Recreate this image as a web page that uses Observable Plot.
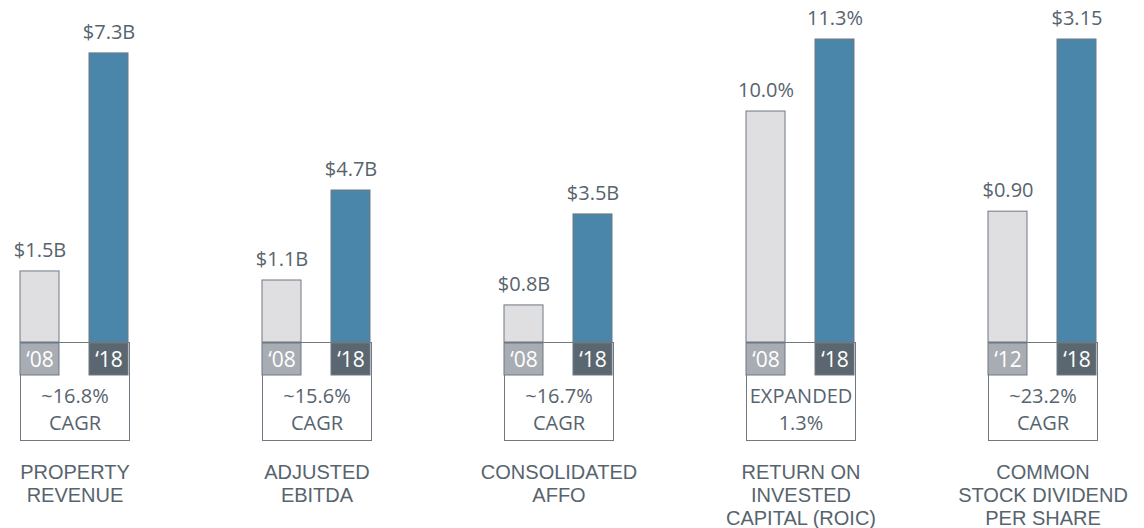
<!DOCTYPE html>
<html>
<head>
<meta charset="utf-8">
<script src="https://cdn.jsdelivr.net/npm/d3@7"></script>
<script src="https://cdn.jsdelivr.net/npm/@observablehq/plot@0.6"></script>
<style>
  html, body { margin: 0; padding: 0; background: #ffffff; overflow: hidden; }
  #chart { display: flex; width: 1144px; height: 528px; }
  .panel { flex: 0 0 242px; width: 242px; }
  .panel svg { display: block; }
</style>
</head>
<body>
<div id="chart"></div>
<script>
// ---- data ----
const metrics = [
  "PROPERTY\nREVENUE",
  "ADJUSTED\nEBITDA",
  "CONSOLIDATED\nAFFO",
  "RETURN ON\nINVESTED\nCAPITAL (ROIC)",
  "COMMON\nSTOCK DIVIDEND\nPER SHARE"
];
const baseYears = ["\u201808", "\u201808", "\u201808", "\u201808", "\u201812"];
const latestYears = ["\u201818", "\u201818", "\u201818", "\u201818", "\u201818"];
const baseValues = [1.5, 1.1, 0.8, 10.0, 0.90];
const latestValues = [7.3, 4.7, 3.5, 11.3, 3.15];
const baseLabels = ["$1.5B", "$1.1B", "$0.8B", "10.0%", "$0.90"];
const latestLabels = ["$7.3B", "$4.7B", "$3.5B", "11.3%", "$3.15"];
const growthLine1 = ["~16.8%", "~15.6%", "~16.7%", "EXPANDED", "~23.2%"];
const growthLine2 = ["CAGR", "CAGR", "CAGR", "1.3%", "CAGR"];
// each panel is drawn on its own value scale (as in the original graphic)
const yDomains = [[-0.39, 7.67], [-1.38, 10.74], [-0.3, 8.69], [5.83, 11.3], [-0.81, 3.15]];

// ---- style ----
const textColor = "#57646e";
const outline = "#6f7983";
const baseFill = "#dfdfe1";
const latestFill = "#4a86aa";
const baseYearFill = "#a8acb3";
const latestYearFill = "#5b6770";
const numFont = "'Open Sans', 'Noto Sans', sans-serif";
const labelFont = "'Liberation Sans', Arial, sans-serif";

const slots = ["base", "latest"];
const common = {
  width: 242,
  marginLeft: 20,
  marginRight: 113,
  style: {background: "transparent", overflow: "visible", color: textColor}
};
const xScale = {type: "band", domain: slots, paddingInner: 0.4317, paddingOuter: 0, axis: null};

const chart = document.getElementById("chart");

metrics.forEach((metric, i) => {
  const rows = [
    {slot: "base", value: baseValues[i], label: baseLabels[i], year: baseYears[i]},
    {slot: "latest", value: latestValues[i], label: latestLabels[i], year: latestYears[i]}
  ];
  const floor = yDomains[i][0];

  const top = Plot.plot({
    ...common,
    height: 342,
    marginTop: 39,
    marginBottom: 0,
    x: xScale,
    y: {domain: yDomains[i], axis: null},
    marks: [
      Plot.barY(rows, {
        x: "slot", y1: floor, y2: "value",
        fill: d => d.slot === "base" ? baseFill : latestFill,
        stroke: outline, strokeWidth: 1, inset: 0
      }),
      Plot.text(rows, {
        x: "slot", y: "value", text: "label", dy: -21,
        lineAnchor: "middle", fontSize: 20, fontFamily: numFont, fill: textColor
      })
    ]
  });

  const bottom = Plot.plot({
    ...common,
    height: 186,
    marginTop: 0,
    marginBottom: 88,
    x: xScale,
    y: {type: "band", domain: ["year", "line1", "line2"], paddingInner: 0, paddingOuter: 0, axis: null},
    marks: [
      Plot.frame({fill: "white", stroke: outline, strokeWidth: 1}),
      Plot.cell(rows, {
        x: "slot", y: () => "year", inset: 0,
        fill: d => d.slot === "base" ? baseYearFill : latestYearFill,
        stroke: outline, strokeWidth: 1
      }),
      Plot.text(rows, {
        x: "slot", y: () => "year", text: "year", dy: 1,
        fontSize: 21, fontFamily: numFont, fill: "white"
      }),
      Plot.text([growthLine1[i]], {
        y: () => "line1", text: d => d, frameAnchor: "middle", dy: 5,
        fontSize: 20, fontFamily: numFont, fill: textColor
      }),
      Plot.text([growthLine2[i]], {
        y: () => "line2", text: d => d, frameAnchor: "middle", dy: 0,
        fontSize: 20, fontFamily: numFont, fill: textColor
      }),
      Plot.text([metric], {
        text: d => d, frameAnchor: "bottom", lineAnchor: "top", dy: 22,
        lineHeight: 1.15, fontSize: 20, fontFamily: labelFont, fill: textColor
      })
    ]
  });

  const panel = document.createElement("div");
  panel.className = "panel";
  panel.appendChild(top);
  panel.appendChild(bottom);
  chart.appendChild(panel);
});
</script>
</body>
</html>
